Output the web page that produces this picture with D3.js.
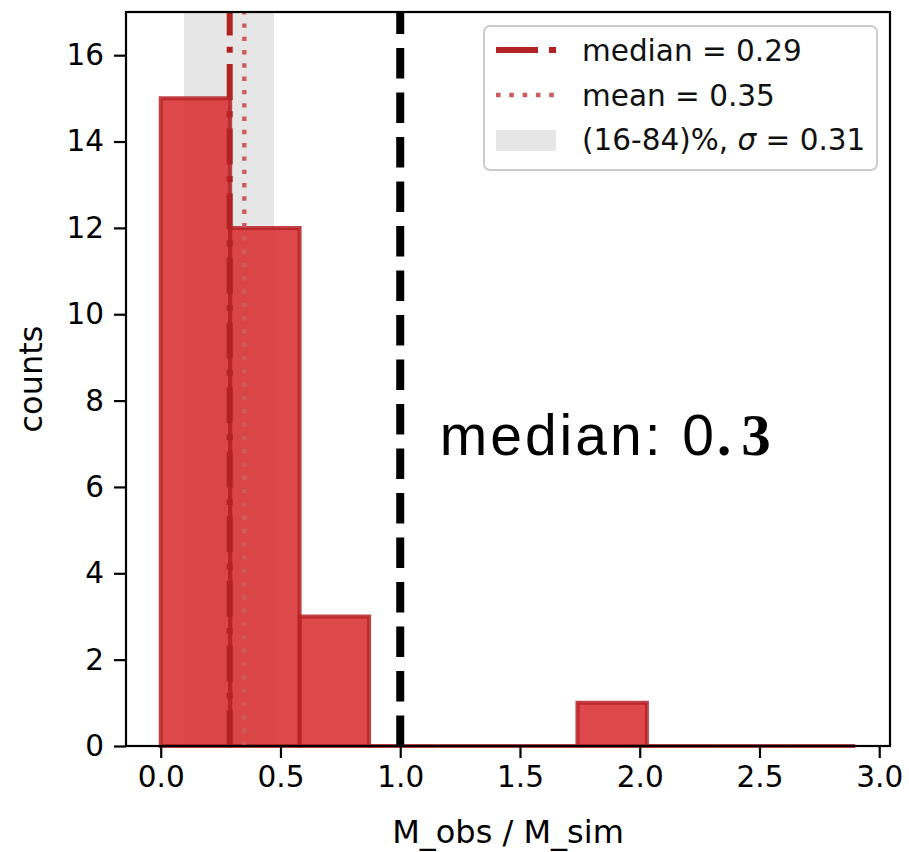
<!DOCTYPE html>
<html>
<head>
<meta charset="utf-8">
<script src="https://cdn.jsdelivr.net/npm/d3@7"></script>
<style>
  html, body { margin: 0; padding: 0; background: #fff; }
  svg { display: block; }
</style>
</head>
<body>
<svg id="chart" width="909" height="852"></svg>
<script>
// ---------------- data ----------------
const binEdges = [0, 0.29, 0.58, 0.87, 1.16, 1.45, 1.74, 2.03, 2.32, 2.61, 2.9];
const counts   = [15, 12, 3, 0, 0, 0, 1, 0, 0, 0];
const medianValue = 0.288;
const meanValue = 0.349;
const spanRange = [0.097, 0.473];
const referenceValue = 1.0;
const xTicks = [0, 0.5, 1.0, 1.5, 2.0, 2.5, 3.0];
const yTicks = [0, 2, 4, 6, 8, 10, 12, 14, 16];
const legendLabels = ["median = 0.29", "mean = 0.35", "(16-84)%, "];
const annotationParts = ["median: 0", ".", "3"];
const xLabel = "M_obs / M_sim";
const yLabel = "counts";

// ---------------- layout ----------------
const svg = d3.select("#chart");
const plot = { left: 126, right: 890, top: 12, bottom: 746 };
const x = d3.scaleLinear().domain([-0.145, 3.045]).range([plot.left, plot.right]);
const y = d3.scaleLinear().domain([0, 17]).range([plot.bottom, plot.top]);

const tickFont = "'DejaVu Sans', sans-serif";
const barFill = "#d7282c";
const barEdge = "#b52226";

// gray span
svg.append("rect")
  .attr("x", x(spanRange[0])).attr("y", plot.top)
  .attr("width", x(spanRange[1]) - x(spanRange[0]))
  .attr("height", plot.bottom - plot.top)
  .attr("fill", "#e6e6e6");

// bars (paths so zero-height bars still draw their edge)
const bins = counts.map((c, i) => ({ x0: binEdges[i], x1: binEdges[i + 1], c }));
svg.append("g").selectAll("path").data(bins).join("path")
  .attr("d", d => `M${x(d.x0)},${y(0)}V${y(d.c)}H${x(d.x1)}V${y(0)}Z`)
  .attr("fill", barFill).attr("fill-opacity", 0.85)
  .attr("stroke", barEdge).attr("stroke-opacity", 0.85)
  .attr("stroke-width", 4).attr("stroke-linejoin", "miter");

// median line (dash-dot, drawn bottom to top)
svg.append("line")
  .attr("x1", x(medianValue)).attr("x2", x(medianValue))
  .attr("y1", plot.bottom).attr("y2", plot.top)
  .attr("stroke", "#b22222").attr("stroke-width", 6)
  .attr("stroke-dasharray", "36 11.3 6 11.3");

// mean line (dotted)
svg.append("line")
  .attr("x1", x(meanValue)).attr("x2", x(meanValue))
  .attr("y1", plot.bottom).attr("y2", plot.top)
  .attr("stroke", "#cd5c5c").attr("stroke-width", 4.4)
  .attr("stroke-dasharray", "4.4 8.9");

// reference dashed black line
svg.append("line")
  .attr("x1", x(referenceValue)).attr("x2", x(referenceValue))
  .attr("y1", plot.bottom).attr("y2", plot.top)
  .attr("stroke", "#000").attr("stroke-width", 8)
  .attr("stroke-dasharray", "30.5 14");

// spines
svg.append("rect")
  .attr("x", plot.left).attr("y", plot.top)
  .attr("width", plot.right - plot.left).attr("height", plot.bottom - plot.top)
  .attr("fill", "none").attr("stroke", "#000").attr("stroke-width", 2.2);

// axes
const xAxis = d3.axisBottom(x).tickValues(xTicks).tickFormat(d3.format(".1f"))
  .tickSize(12).tickPadding(8);
const gx = svg.append("g").attr("transform", `translate(0,${plot.bottom})`).call(xAxis);
gx.select(".domain").remove();
gx.selectAll(".tick line").attr("stroke", "#000").attr("stroke-width", 2.2);
gx.selectAll(".tick text").attr("font-family", tickFont).attr("font-size", 29.5).attr("fill", "#000");

const yAxis = d3.axisLeft(y).tickValues(yTicks).tickFormat(d3.format("d"))
  .tickSize(12).tickPadding(10);
const gy = svg.append("g").attr("transform", `translate(${plot.left},0)`).call(yAxis);
gy.select(".domain").remove();
gy.selectAll(".tick line").attr("stroke", "#000").attr("stroke-width", 2.2);
gy.selectAll(".tick text").attr("font-family", tickFont).attr("font-size", 29.5).attr("fill", "#000");

// axis labels
svg.append("text")
  .attr("x", (plot.left + plot.right) / 2).attr("y", 843)
  .attr("text-anchor", "middle")
  .attr("font-family", tickFont).attr("font-size", 32).attr("fill", "#000")
  .text(xLabel);
svg.append("text")
  .attr("transform", `translate(42,${(plot.top + plot.bottom) / 2}) rotate(-90)`)
  .attr("text-anchor", "middle")
  .attr("font-family", tickFont).attr("font-size", 32).attr("fill", "#000")
  .text(yLabel);

// legend
const lg = svg.append("g");
lg.append("rect")
  .attr("x", 484).attr("y", 26).attr("width", 393).attr("height", 144)
  .attr("rx", 6).attr("ry", 6)
  .attr("fill", "#fff").attr("fill-opacity", 0.8)
  .attr("stroke", "#cccccc").attr("stroke-width", 2);
lg.append("line")
  .attr("x1", 496).attr("x2", 556).attr("y1", 50).attr("y2", 50)
  .attr("stroke", "#b22222").attr("stroke-width", 6)
  .attr("stroke-dasharray", "42 11 7 11");
lg.append("line")
  .attr("x1", 496).attr("x2", 556).attr("y1", 95).attr("y2", 95)
  .attr("stroke", "#cd5c5c").attr("stroke-width", 4.6)
  .attr("stroke-dasharray", "4.6 8.7");
lg.append("rect")
  .attr("x", 496).attr("y", 130).attr("width", 60).attr("height", 21)
  .attr("fill", "#e6e6e6");
const legBaselines = [61, 106, 150];
legendLabels.forEach((t, i) => {
  const tx = lg.append("text")
    .attr("x", 582).attr("y", legBaselines[i])
    .attr("font-family", tickFont).attr("font-size", 29.5).attr("fill", "#111")
    .text(t);
  if (i === 2) {
    tx.append("tspan").attr("font-style", "italic").text("σ");
    tx.append("tspan").text(" = 0.31");
  }
});

// annotation
const ann = svg.append("text")
  .attr("x", x(1.165)).attr("y", 455)
  .attr("font-family", "'Liberation Sans', Arial, sans-serif")
  .attr("font-size", 57).attr("fill", "#000");
ann.append("tspan").attr("letter-spacing", 3).text(annotationParts[0]);
ann.append("tspan")
  .attr("font-family", "'Liberation Serif', 'DejaVu Serif', serif")
  .attr("font-weight", "bold")
  .text(annotationParts[1]);
ann.append("tspan")
  .attr("font-family", "'Liberation Serif', 'DejaVu Serif', serif")
  .attr("font-weight", "bold").attr("font-size", 59).attr("dx", 10)
  .text(annotationParts[2]);
</script>
</body>
</html>
